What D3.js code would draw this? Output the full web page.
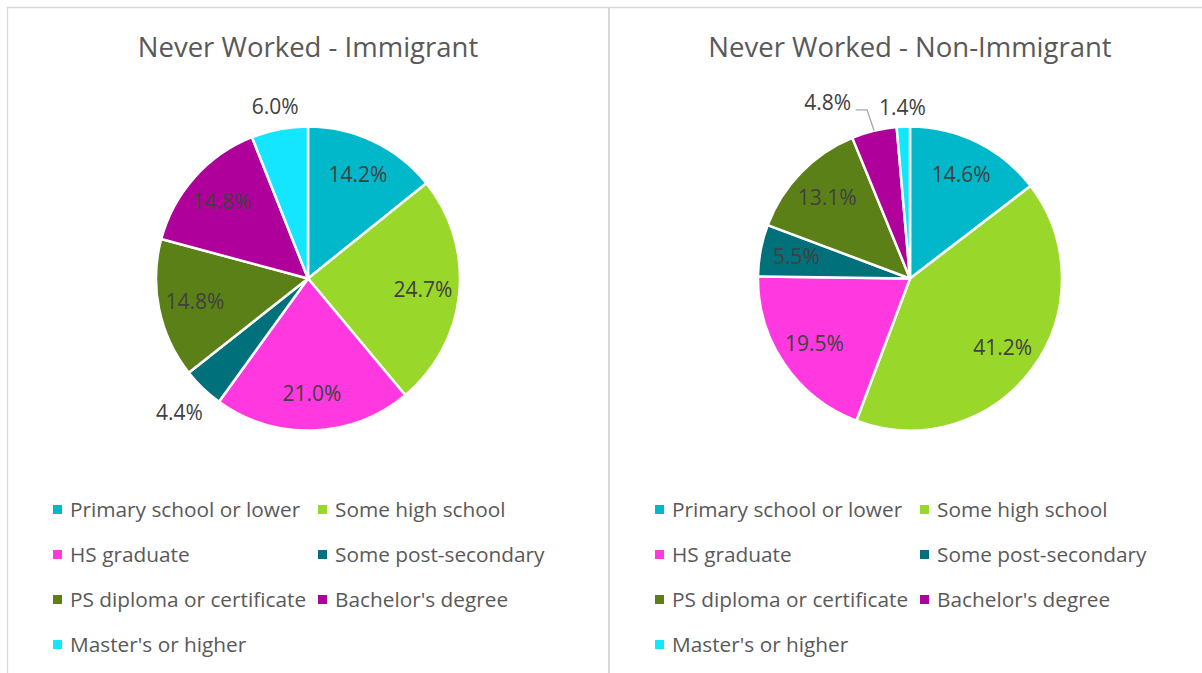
<!DOCTYPE html>
<html>
<head>
<meta charset="utf-8">
<script src="https://cdn.jsdelivr.net/npm/d3@7"></script>
<style>
  html, body { margin: 0; padding: 0; background: #ffffff; }
  svg { display: block; }
  text { font-family: "Open Sans", "Noto Sans", sans-serif; }
</style>
</head>
<body>
<svg id="chart" width="1202" height="673"></svg>
<script>
// ---- data ----
const categories = ["Primary school or lower", "Some high school", "HS graduate", "Some post-secondary",
                    "PS diploma or certificate", "Bachelor's degree", "Master's or higher"];
const colors = ["#00B8C9", "#99D82A", "#FF38E0", "#00707A", "#5C8018", "#B0009B", "#14E6FF"];
const titles = ["Never Worked - Immigrant", "Never Worked - Non-Immigrant"];
const immigrantValues = [14.2, 24.7, 21.0, 4.4, 14.8, 14.8, 6.0];
const nonImmigrantValues = [14.6, 41.2, 19.5, 5.5, 13.1, 4.8, 1.4];
const immigrantOutside = [false, false, false, true, false, false, true];
const nonImmigrantOutside = [false, false, false, false, false, true, true];
const nonImmigrantLeader = [false, false, false, false, false, true, false];

const panels = [
  { title: titles[0], values: immigrantValues, outside: immigrantOutside, leader: [false,false,false,false,false,false,false] },
  { title: titles[1], values: nonImmigrantValues, outside: nonImmigrantOutside, leader: nonImmigrantLeader }
];

const svg = d3.select("#chart");
const W = 1202, H = 673;

// cut-off heading glyph above the chart frame
svg.append("text").attr("x", -1).attr("y", -6).attr("font-size", 26)
  .attr("fill", "#3FA6BE").text("g");

// frame
const frame = svg.append("g").attr("stroke", "#D9D9D9").attr("stroke-width", 1.3).attr("fill", "none");
frame.append("line").attr("x1", 7).attr("x2", W).attr("y1", 7.5).attr("y2", 7.5);
frame.append("line").attr("x1", 7.5).attr("x2", 7.5).attr("y1", 7).attr("y2", H);
frame.append("line").attr("x1", 609).attr("x2", 609).attr("y1", 7).attr("y2", H).attr("stroke-width", 2);

const panelX = d3.scaleLinear().domain([0, 1]).range([308, 910]);
const R = 152, cy = 278.5;
const labelSize = 21, legendSize = 20.8, titleSize = 27.5;

const pie = d3.pie().sort(null).value(d => d);
const arc = d3.arc().innerRadius(0).outerRadius(R);
const labelArc = d3.arc().innerRadius(R * 0.76).outerRadius(R * 0.76);

panels.forEach((p, pi) => {
  const cx = panelX(pi);
  const g = svg.append("g").attr("transform", `translate(${cx},${cy})`);

  svg.append("text").attr("x", cx).attr("y", 57).attr("text-anchor", "middle")
    .attr("font-size", titleSize).attr("fill", "#595959").text(p.title);

  const arcs = pie(p.values);
  g.selectAll("path.slice").data(arcs).enter().append("path")
    .attr("class", "slice")
    .attr("d", arc)
    .attr("fill", (d, i) => colors[i])
    .attr("stroke", "#ffffff").attr("stroke-width", 2.5).attr("stroke-linejoin", "round");

  arcs.forEach((d, i) => {
    const mid = (d.startAngle + d.endAngle) / 2;
    const label = d3.format(".1f")(p.values[i]) + "%";
    let x, y;
    if (p.outside[i]) {
      if (p.leader[i]) {
        const ang = mid - 0.2, rr = R + 42;
        x = Math.sin(ang) * rr; y = -Math.cos(ang) * rr;
        const ex = Math.sin(mid) * R, ey = -Math.cos(mid) * R;
        const lx = x + 28, ly = y + 7;
        g.append("polyline")
          .attr("points", `${lx},${ly} ${ex - 7},${ly} ${ex},${ey}`)
          .attr("fill", "none").attr("stroke", "#A6A6A6").attr("stroke-width", 1.3);
      } else {
        const w = 52, h = 16, gap = 10;
        const sx = Math.sin(mid), sy = -Math.cos(mid);
        const rr = R + gap + Math.abs(sx) * w / 2 + Math.abs(sy) * h / 2;
        x = sx * rr; y = sy * rr;
      }
    } else {
      [x, y] = labelArc.centroid(d);
    }
    g.append("text").attr("x", x).attr("y", y).attr("dy", "0.35em")
      .attr("text-anchor", "middle").attr("font-size", labelSize).attr("fill", "#404040")
      .text(label);
  });

  // legend
  const legendCol = d3.scaleOrdinal().domain([0, 1]).range([cx - 255, cx + 10]);
  const legendRow = d3.scaleLinear().domain([0, 1]).range([510, 555]);
  categories.forEach((c, i) => {
    const lx = legendCol(i % 2), ly = legendRow(Math.floor(i / 2));
    svg.append("rect").attr("x", lx).attr("y", ly - 5).attr("width", 9).attr("height", 9).attr("fill", colors[i]);
    svg.append("text").attr("x", lx + 17).attr("y", ly).attr("dy", "0.35em")
      .attr("font-size", legendSize).attr("fill", "#595959").text(c);
  });
});
</script>
</body>
</html>
